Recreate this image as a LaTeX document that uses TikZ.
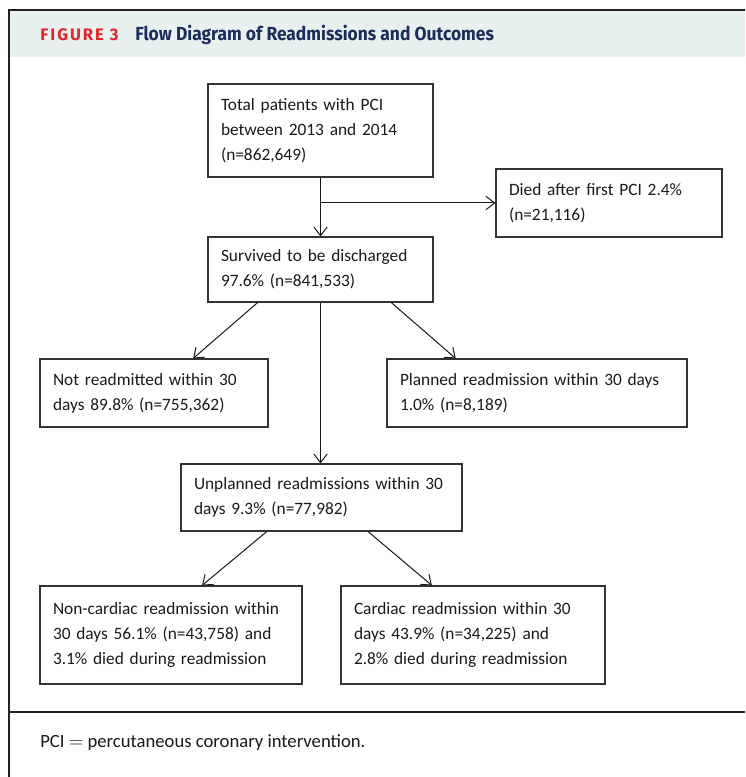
\documentclass[tikz,border=0pt]{standalone}
\usepackage{fontspec}
\setmainfont{Carlito}
\newfontfamily\titlefont[FakeStretch=0.92]{Fira Sans}
\newfontfamily\figfont[LetterSpace=12]{Fira Sans}
\usetikzlibrary{arrows.meta,calc}
\definecolor{bandcol}{HTML}{E8F0F0}
\definecolor{figred}{HTML}{E3242B}
\definecolor{navy}{HTML}{1B2D5B}
\definecolor{framecol}{HTML}{222222}
\begin{document}
\begin{tikzpicture}[x=0.75pt,y=-0.75pt,
  box/.style={draw=black!80, line width=0.8pt, rectangle, inner xsep=9.75pt, inner ysep=0pt,
    align=left, font=\fontsize{13}{18.75}\selectfont, text=black!90},
  arr/.style={draw=black!90, line width=0.75pt, -{Straight Barb[length=6.5pt,width=10pt]}},
  frameline/.style={draw=framecol, line width=1.1pt}]
\useasboundingbox (0,0) rectangle (745,777);
% header band and frame
\fill[bandcol] (9,10) rectangle (745,57);
\draw[frameline] (9,777) -- (9,10) -- (745,10);
\draw[frameline] (9,712) -- (745,712);
\node[anchor=west, inner sep=0pt, text=figred, font=\figfont\fontsize{12.5}{14}\selectfont\bfseries] (fig) at (40,35) {FIGURE 3};
\node[anchor=west, inner sep=0pt, text=navy, font=\titlefont\fontsize{14.2}{16}\selectfont\bfseries] (title) at (135,35) {Flow Diagram of Readmissions and Outcomes};
% boxes
\node[box, minimum width=168.75pt, minimum height=69.75pt, text width=149.25pt] (total) at (320.5,130.5)
  {Total patients with PCI\\between 2013 and 2014\\(n=862,649)};
\node[box, minimum width=169.5pt, minimum height=51pt, text width=150pt] (died) at (609,203)
  {Died after first PCI 2.4\%\\(n=21,116)};
\node[box, minimum width=168.75pt, minimum height=48.75pt, text width=149.25pt] (surv) at (320.5,269.5)
  {Survived to be discharged\\97.6\% (n=841,533)};
\node[box, minimum width=171pt, minimum height=51pt, text width=151.5pt] (notre) at (154,393)
  {Not readmitted within 30\\days 89.8\% (n=755,362)};
\node[box, minimum width=225pt, minimum height=51pt, text width=205.5pt] (plan) at (537,393)
  {Planned readmission within 30 days\\1.0\% (n=8,189)};
\node[box, minimum width=210.75pt, minimum height=50.25pt, text width=191.25pt] (unpl) at (321.5,497.5)
  {Unplanned readmissions within 30\\days 9.3\% (n=77,982)};
\node[box, minimum width=196.5pt, minimum height=73.5pt, text width=177pt] (noncard) at (171,635)
  {Non-cardiac readmission within\\30 days 56.1\% (n=43,758) and\\3.1\% died during readmission};
\node[box, minimum width=198pt, minimum height=73.5pt, text width=178.5pt] (card) at (473,635)
  {Cardiac readmission within 30\\days 43.9\% (n=34,225) and\\2.8\% died during readmission};
% footer
\node[anchor=west, inner sep=0pt, font=\fontsize{14}{16}\selectfont, text=black!90] (foot) at (40,743)
  {PCI $=$ percutaneous coronary intervention.};
% connectors
\draw[arr] (total.south) -- (surv.north);
\draw[arr] (total.south |- died.west) -- (died.west);
\draw[arr] ($(surv.south west)!0.222!(surv.south east)$) -- ($(notre.north west)!0.671!(notre.north east)$);
\draw[arr] ($(surv.south west)!0.813!(surv.south east)$) -- ($(plan.north west)!0.23!(plan.north east)$);
\draw[arr] (surv.south) -- (surv.south |- unpl.north);
\draw[arr] ($(unpl.south west)!0.306!(unpl.south east)$) -- ($(noncard.north west)!0.618!(noncard.north east)$);
\draw[arr] ($(unpl.south west)!0.665!(unpl.south east)$) -- ($(card.north west)!0.345!(card.north east)$);
\end{tikzpicture}
\end{document}
